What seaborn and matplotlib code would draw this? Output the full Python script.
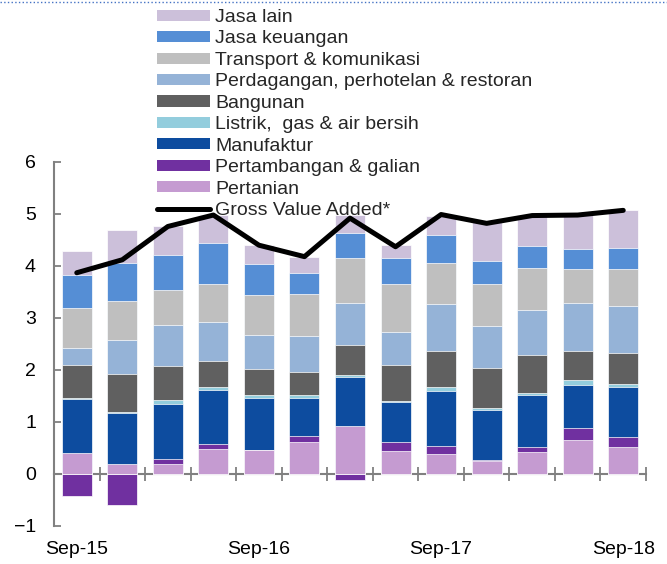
import numpy as np
import pandas as pd
import seaborn as sns
import matplotlib.pyplot as plt
from matplotlib.patches import Patch
from matplotlib.lines import Line2D

# kontribusi pertumbuhan per sektor (ppt), yoy
quarters = ['Sep-15', 'Dec-15', 'Mar-16', 'Jun-16', 'Sep-16', 'Dec-16', 'Mar-17',
            'Jun-17', 'Sep-17', 'Dec-17', 'Mar-18', 'Jun-18', 'Sep-18']

pertanian = [0.41, 0.19, 0.19, 0.49, 0.46, 0.62, 0.92, 0.44, 0.39, 0.25, 0.42, 0.66, 0.51]
pertambangan = [-0.42, -0.60, 0.10, 0.09, 0.01, 0.12, -0.12, 0.18, 0.15, 0.01, 0.09, 0.22, 0.21]
manufaktur = [1.03, 0.98, 1.06, 1.04, 0.99, 0.73, 0.95, 0.77, 1.06, 0.98, 1.01, 0.84, 0.95]
listrik = [0.02, 0.02, 0.07, 0.06, 0.05, 0.04, 0.03, 0.01, 0.07, 0.03, 0.03, 0.08, 0.06]
bangunan = [0.64, 0.74, 0.66, 0.50, 0.51, 0.46, 0.59, 0.69, 0.70, 0.77, 0.74, 0.57, 0.59]
perdagangan = [0.33, 0.65, 0.79, 0.75, 0.65, 0.69, 0.80, 0.65, 0.89, 0.80, 0.86, 0.91, 0.92]
transport = [0.76, 0.75, 0.67, 0.72, 0.77, 0.80, 0.86, 0.91, 0.80, 0.82, 0.82, 0.67, 0.71]
jasa_keuangan = [0.63, 0.73, 0.67, 0.79, 0.59, 0.41, 0.49, 0.51, 0.53, 0.43, 0.41, 0.38, 0.40]
jasa_lain = [0.46, 0.63, 0.55, 0.54, 0.38, 0.31, 0.34, 0.24, 0.38, 0.75, 0.60, 0.65, 0.72]
gva = [3.87, 4.12, 4.76, 4.98, 4.40, 4.18, 4.92, 4.37, 4.99, 4.82, 4.97, 4.98, 5.07]

labels = ['Pertanian', 'Pertambangan & galian', 'Manufaktur', 'Listrik,  gas & air bersih',
          'Bangunan', 'Perdagangan, perhotelan & restoran', 'Transport & komunikasi',
          'Jasa keuangan', 'Jasa lain']
colors = ['#C59BD1', '#7030A0', '#0D4C9F', '#93CDDD', '#606060',
          '#95B3D7', '#BFBFBF', '#558ED5', '#CCC0DA']
series = [pertanian, pertambangan, manufaktur, listrik, bangunan,
          perdagangan, transport, jasa_keuangan, jasa_lain]

df = pd.DataFrame(dict(zip(labels, series)))
df['pos'] = np.arange(len(quarters))

sns.set_theme(style='white')
plt.rcParams['font.family'] = ['Liberation Sans', 'DejaVu Sans']

fig = plt.figure(figsize=(6.67, 5.64), dpi=100)
ax = fig.add_axes([54 / 667, 38 / 564, 592 / 667, 364 / 564])

# stacked bars: positive parts stacked from 0, negative drawn below 0
pos_part = df[labels].clip(lower=0).cumsum(axis=1)
for i in reversed(range(len(labels))):
    name = labels[i]
    h = pos_part[name].where(df[name] >= 0, df[name])
    sns.barplot(x=df['pos'], y=h, color=colors[i], saturation=1, width=0.66,
                native_scale=True, errorbar=None, edgecolor='white', linewidth=0.5, ax=ax)

sns.lineplot(x=df['pos'], y=gva, color='black', linewidth=3.6, sort=False, ax=ax)

ax.set_xlim(-0.5, len(quarters) - 0.5)
ax.set_ylim(-1, 6)
ax.set_xlabel('')
ax.set_ylabel('')
ax.set_yticks(range(-1, 7))
ax.set_xticks(df['pos'][::4])
ax.set_xticklabels(quarters[::4])
ax.tick_params(axis='x', length=0, pad=11, labelsize=14, labelcolor='black')
ax.tick_params(axis='y', direction='in', length=5, width=1.3, color='#808080',
               pad=13, labelsize=14, labelcolor='black', left=True)
for s in ['top', 'right', 'bottom']:
    ax.spines[s].set_visible(False)
ax.spines['left'].set_color('#808080')
ax.spines['left'].set_linewidth(1.5)

# garis sumbu x pada nol, tick di batas kategori
sec = ax.secondary_xaxis(0, transform=ax.transData)
sec.set_xticks(np.arange(-0.5, len(quarters), 1))
sec.tick_params(direction='inout', length=10, width=1.3, color='#808080', labelbottom=False)
sec.spines['bottom'].set_color('#808080')
sec.spines['bottom'].set_linewidth(1.5)

handles = [Patch(facecolor=c, edgecolor='none') for c in colors[::-1]]
handles.append(Line2D([0], [0], color='black', lw=3.6, solid_capstyle='round'))
fig.legend(handles, labels[::-1] + ['Gross Value Added*'], loc='upper left',
           bbox_to_anchor=(157 / 667, 1 - 9 / 564), frameon=False, fontsize=14,
           handlelength=2.7, handleheight=0.5, handletextpad=0.3,
           labelspacing=0.23, borderpad=0, borderaxespad=0)

fig.add_artist(Line2D([0, 1], [0.996, 0.996], transform=fig.transFigure,
                      ls=':', color='#4472C4', lw=1))

fig.savefig('out.png', dpi=100)
